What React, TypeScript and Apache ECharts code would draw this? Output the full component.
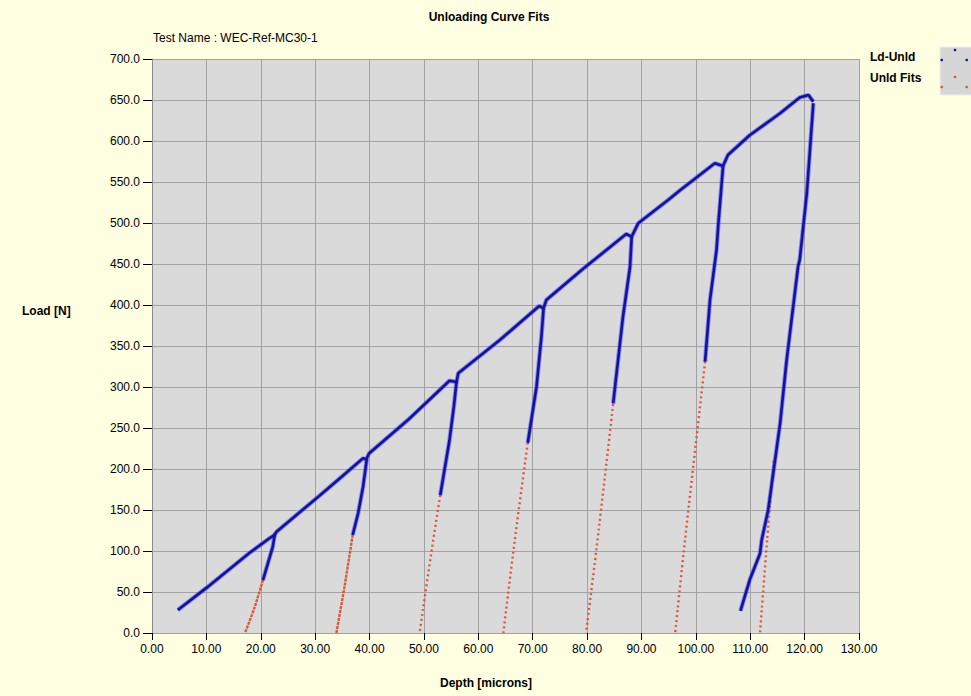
import React, { useEffect, useRef } from "react";
import * as echarts from "echarts";

// Depth [microns] / Load [N] pairs
const loadingEnvelope: [number, number][] = [
  [4.75, 28], [10.0, 55], [17.9, 97.5], [21.6, 115.5], [22.5, 119.5],
  [22.9, 123.5], [30.8, 167.5], [34.5, 188.5], [38.8, 213], [39.4, 211.8],
  [39.9, 219], [47.1, 260], [54.7, 307.7], [56.0, 306],
  [56.3, 316.7], [63.9, 357], [71.2, 398.8], [72.0, 396],
  [72.5, 406], [79.0, 442.7], [87.2, 486.6], [88.2, 483.3],
  [89.4, 499.6], [94.9, 528], [97.1, 540], [103.5, 572.8], [105.0, 569.5],
  [105.9, 583], [109.9, 607], [115.5, 633.8], [119.1, 653], [120.7, 656], [121.6, 648],
];

const unload1: [number, number][] = [[22.6, 121], [22.2, 105], [20.4, 64.6]];
const unload2: [number, number][] = [[39.5, 212], [38.8, 178], [37.9, 146], [36.9, 119.5]];
const unload3: [number, number][] = [[56.0, 306.5], [55.5, 276], [54.7, 235], [53.0, 168]];
const unload4: [number, number][] = [[72.0, 396], [71.6, 361], [70.7, 300], [69.1, 232]];
const unload5: [number, number][] = [[88.2, 483.3], [87.9, 446.7], [86.6, 385.7], [84.8, 280]];
const unload6: [number, number][] = [[105.0, 569], [104.1, 495.5], [103.8, 467], [102.6, 406], [101.7, 331]];
const unload7: [number, number][] = [
  [121.6, 646], [120.4, 536], [119.1, 455], [118.8, 447], [116.7, 333], [115.5, 256],
  [114.4, 203], [113.3, 150], [112.1, 113], [111.8, 97], [109.9, 64.6], [108.2, 27],
];

const fit1: [number, number][] = [[20.4, 64.6], [18.9, 32], [17.1, 0]];
const fit2: [number, number][] = [[36.9, 119.5], [35.4, 56.5], [33.9, 0]];
const fit3: [number, number][] = [[53.0, 168], [51.7, 113], [49.2, 0]];
const fit4: [number, number][] = [[69.1, 232], [66.7, 113], [64.6, 0]];
const fit5: [number, number][] = [[84.8, 279], [81.7, 101], [79.8, 0]];
const fit6: [number, number][] = [[101.7, 331], [100.7, 272], [98.0, 113], [96.2, 0]];
const fit7: [number, number][] = [[114.3, 210], [113.1, 113], [111.8, 0]];

const unloadBranches = [unload1, unload2, unload3, unload4, unload5, unload6, unload7];
const fitCurves = [fit1, fit2, fit3, fit4, fit5, fit6, fit7];

const depthRange = { min: 0, max: 130, step: 10 };
const loadRange = { min: 0, max: 700, step: 50 };

const BLUE = "#12129c";
const BLUE_HALO = "rgba(70, 70, 255, 0.55)";
const RED = "#d8583a";
const FONT = "'Liberation Sans', Arial, sans-serif";

export default function App() {
  const ref = useRef<HTMLDivElement>(null);

  useEffect(() => {
    if (!ref.current) return;
    const chart = echarts.init(ref.current, undefined, { renderer: "svg" });

    // each blue path is drawn twice: a soft wide stroke below a dark core
    const blueLines = (data: [number, number][]) => [
      {
        type: "line" as const,
        name: "Ld-Unld",
        data,
        symbol: "none",
        z: 4,
        lineStyle: { color: BLUE_HALO, width: 4.5 },
      },
      {
        type: "line" as const,
        name: "Ld-Unld",
        data,
        symbol: "none",
        z: 5,
        lineStyle: { color: BLUE, width: 2.6 },
      },
    ];

    const series: any[] = [];
    fitCurves.forEach((d, i) => {
      series.push({
        type: "line",
        name: "Unld Fits",
        data: d,
        symbol: "none",
        smooth: 0.3,
        z: 3,
        lineStyle: {
          color: RED,
          width: 2.4,
          type: i < 2 ? [3, 1] : [2, 3],
          cap: "butt",
        },
      });
    });
    series.push(...blueLines(loadingEnvelope));
    unloadBranches.forEach((d) => series.push(...blueLines(d)));

    const legendDots = (color: string, y0: number) => [
      { type: "circle", shape: { cx: 941.7, cy: y0 + 10, r: 1.3 }, style: { fill: color } },
      { type: "circle", shape: { cx: 955, cy: y0, r: 1.3 }, style: { fill: color } },
      { type: "circle", shape: { cx: 966.7, cy: y0 + 10, r: 1.3 }, style: { fill: color } },
    ];

    const label = (text: string, x: number, y: number, bold: boolean, align: string) => ({
      type: "text",
      x,
      y,
      style: {
        text,
        font: `${bold ? "bold " : ""}12px ${FONT}`,
        fill: "#000",
        textAlign: align,
        textVerticalAlign: "middle",
      },
    });

    chart.setOption({
      animation: false,
      backgroundColor: "#ffffe1",
      grid: {
        left: 152,
        top: 59,
        width: 707,
        height: 574,
        show: true,
        backgroundColor: "#dadada",
        borderWidth: 0,
      },
      xAxis: {
        type: "value",
        min: depthRange.min,
        max: depthRange.max,
        interval: depthRange.step,
        axisLine: { show: false },
        axisTick: { show: true, length: 7, lineStyle: { color: "#000", width: 1 } },
        axisLabel: {
          color: "#000",
          fontSize: 12,
          fontFamily: FONT,
          margin: 10,
          formatter: (v: number) => v.toFixed(2),
        },
        splitLine: { show: true, lineStyle: { color: "#a2a2a2", width: 1 } },
      },
      yAxis: {
        type: "value",
        min: loadRange.min,
        max: loadRange.max,
        interval: loadRange.step,
        axisLine: { show: true, lineStyle: { color: "#8c8c8c", width: 1 } },
        axisTick: { show: true, length: 9, lineStyle: { color: "#000", width: 1 } },
        axisLabel: {
          color: "#000",
          fontSize: 12,
          fontFamily: FONT,
          margin: 12,
          formatter: (v: number) => v.toFixed(1),
        },
        splitLine: { show: true, lineStyle: { color: "#a2a2a2", width: 1 } },
      },
      series,
      graphic: [
        label("Unloading Curve Fits", 489, 17, true, "center"),
        label("Test Name : WEC-Ref-MC30-1", 153, 38, false, "left"),
        label("Load [N]", 22, 311, true, "left"),
        label("Depth [microns]", 486, 683, true, "center"),
        label("Ld-Unld", 870, 57, true, "left"),
        label("Unld Fits", 870, 78, true, "left"),
        {
          type: "rect",
          shape: { x: 940, y: 47, width: 40, height: 48 },
          style: { fill: "#d6d6d6", stroke: "#eeeeee", lineWidth: 1 },
        },
        ...legendDots("#1010a0", 50),
        ...legendDots(RED, 77),
      ],
    });

    return () => chart.dispose();
  }, []);

  return (
    <div
      ref={ref}
      style={{ position: "fixed", left: 0, top: 0, width: 971, height: 696 }}
    />
  );
}
